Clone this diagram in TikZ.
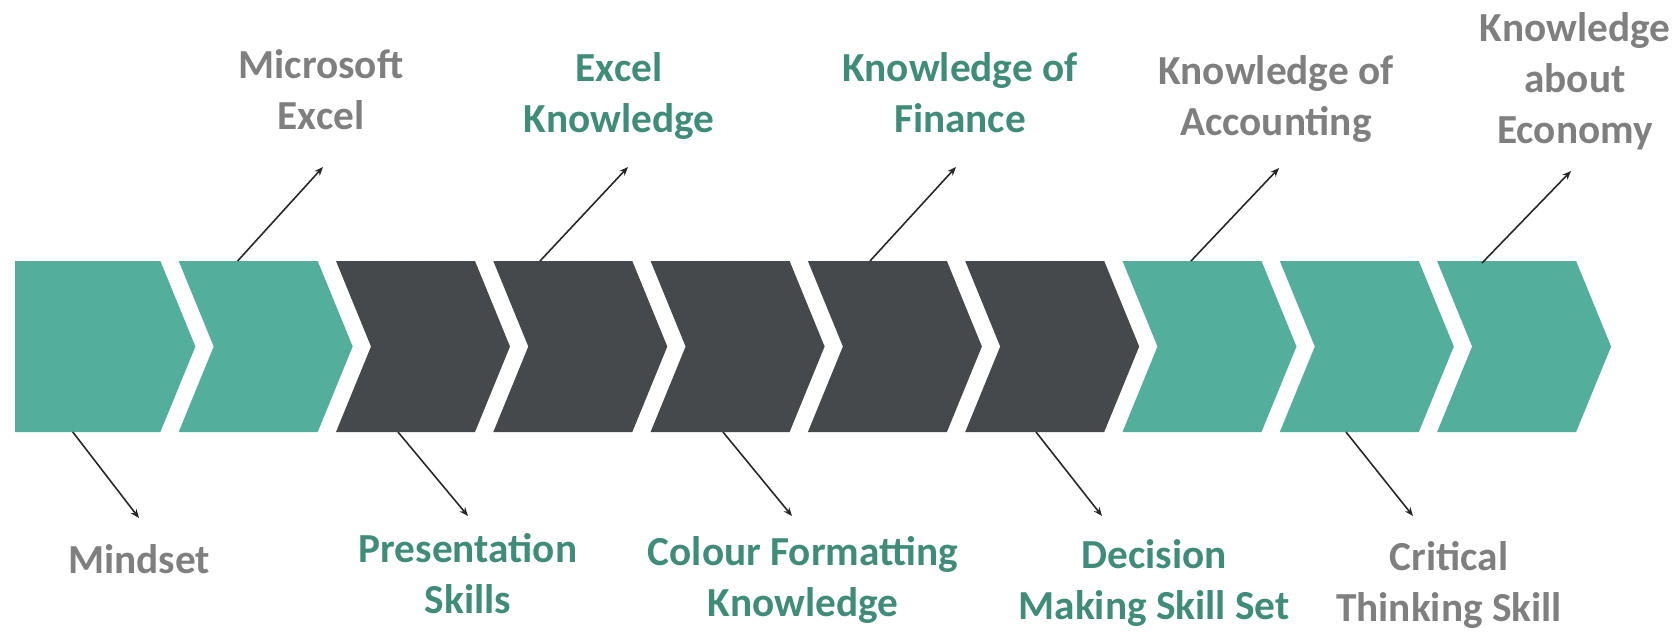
\documentclass[tikz,border=0pt]{standalone}
\usepackage{fontspec}
\setmainfont{Carlito}
\usepackage{tikz}
\usetikzlibrary{arrows.meta}
\usetikzlibrary{positioning}
\usetikzlibrary{calc}
\definecolor{chevgreen}{HTML}{53AE9B}
\definecolor{chevdark}{HTML}{45494B}
\definecolor{txtgray}{HTML}{7F7F7F}
\definecolor{txtgreen}{HTML}{3F8C78}
\tikzset{
  lbl/.style = {align=center, inner sep=0pt, text centered,
    font=\fontsize{23.5}{29}\selectfont\bfseries},
  lbl_g/.style = {lbl, txtgray},% label, gray text
  lbl_t/.style = {lbl, txtgreen},% label, green text
  conn/.style = {-{Stealth[length=5pt,width=4pt]}, line width=0.9pt,
    draw=black!85}% connector
}

\begin{document}
\begin{tikzpicture}[x=0.02cm,y=-0.02cm]
\useasboundingbox (0,0) rectangle (1678,633);

% chevrons
\fill[chevgreen] (15,261) -- (160.4,261) -- (195.4,346.5) -- (160.4,432)
  -- (15,432) -- cycle;
\foreach \i/\col in {2/chevgreen,3/chevdark,4/chevdark,5/chevdark,6/chevdark,
  7/chevdark,8/chevgreen,9/chevgreen,10/chevgreen}{
  \pgfmathsetmacro{\xl}{21.4+(\i-1)*157.3}
  \fill[\col] (\xl,261) -- ++(139,0) -- ++(35,85.5) -- ++(-35,85.5)
    -- ++(-139,0) -- ++(35,-85.5) -- cycle;
}

% labels above
\node[lbl_g] (msexcel) at (321,90) {Microsoft\\Excel};
\node[lbl_t] (xlknow) at (619,96) {Excel\\Knowledge};
\node[lbl_t] (finance) at (960,93) {Knowledge of\\Finance};
\node[lbl_g] (account) at (1276,99) {Knowledge of\\Accounting};
\node[lbl_g] (economy) at (1575,81) {Knowledge\\about\\Economy};

% labels below
\node[lbl_g] (mindset) at (139,559) {Mindset};
\node[lbl_t] (present) at (468,574) {Presentation\\Skills};
\node[lbl_t] (colour) at (803,580) {Colour Formatting\\Knowledge};
\node[lbl_t] (decision) at (1154,583) {Decision\\Making Skill Set};
\node[lbl_g] (critical) at (1449,585) {Critical\\Thinking Skill};

\coordinate (s2) at (237.6,261);  \coordinate (e2) at (323,167);
\coordinate (s4) at (540,261);    \coordinate (e4) at (628,167);
\coordinate (s6) at (870,261);    \coordinate (e6) at (956,167);
\coordinate (s8) at (1191,261);   \coordinate (e8) at (1279,168);
\coordinate (s10) at (1482,263);  \coordinate (e10) at (1571,171);

\coordinate (s1) at (72.8,432);   \coordinate (e1) at (139,518);
\coordinate (s3) at (398,432);    \coordinate (e3) at (468,516);
\coordinate (s5) at (723,432);    \coordinate (e5) at (792,516);
\coordinate (s7) at (1036,432);   \coordinate (e7) at (1102,516);
\coordinate (s9) at (1346,432);   \coordinate (e9) at (1413,516);

\foreach \k in {1,...,10}{
  \draw[conn] (s\k) -- (e\k);
}
\end{tikzpicture}
\end{document}
